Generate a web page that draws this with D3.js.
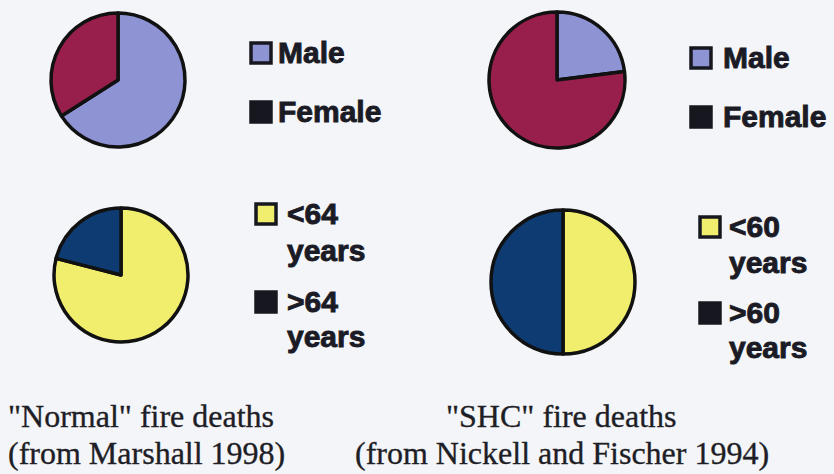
<!DOCTYPE html>
<html>
<head>
  <title>Fire deaths</title>
  <meta charset="utf-8">
  <style type="text/css">
  body { margin: 0; background: #f4f5f8; }
  .legend text { font-family: "Liberation Sans", Arial, sans-serif; font-weight: bold; font-size: 30px; fill: #1b1b26; stroke: #1b1b26; stroke-width: 0.9px; }
  .caption { font-family: "Liberation Serif", "Times New Roman", serif; font-size: 32px; fill: #1e1e26; stroke: #1e1e26; stroke-width: 0.35px; }
  </style>
</head>
<body>
<script src="https://d3js.org/d3.v7.min.js"></script>
<div id="chart"></div>
<script>

// data (percent)
var sexLabels = ["Male", "Female"];
var normalSex = [66, 34];
var shcSex = [23, 77];

var normalAgeLabels = [["<64", "years"], [">64", "years"]];
var shcAgeLabels = [["<60", "years"], [">60", "years"]];
var normalAge = [79, 21];
var shcAge = [50, 50];

var captionNormal = ["\"Normal\" fire deaths", "(from Marshall 1998)"];
var captionShc = ["\"SHC\" fire deaths", "(from Nickell and Fischer 1994)"];

var width = 834, height = 474;

var svg = d3.select("#chart")
  .append("svg")
    .attr("width", width)
    .attr("height", height);

svg.append("rect")
  .attr("width", width)
  .attr("height", height)
  .attr("fill", "#f4f5f8");

var sexColor = d3.scaleOrdinal().domain([0, 1]).range(["#8e93d4", "#981f4b"]);
var ageColor = d3.scaleOrdinal().domain([0, 1]).range(["#f1ee6d", "#0e3b72"]);
// legend swatches: second item is drawn plain black
var swatch = ["", "#17171f"];

var pie = d3.pie().sort(null).value(function(d) { return d; });

function drawPie(values, color, cx, cy, r) {
  var arc = d3.arc().innerRadius(0).outerRadius(r);
  var g = svg.append("g").attr("transform", "translate(" + cx + "," + cy + ")");
  g.selectAll("path")
    .data(pie(values))
    .enter()
    .append("path")
      .attr("d", arc)
      .attr("fill", function(d, i) { return color(i); })
      .attr("stroke", "#111")
      .attr("stroke-width", 3.5)
      .attr("stroke-linejoin", "round");
}

// legend: lines = array of arrays of text lines
function drawLegend(lines, color, x, textX, items) {
  var g = svg.append("g").attr("class", "legend");
  lines.forEach(function(txt, i) {
    var it = items[i];
    g.append("rect")
      .attr("x", x)
      .attr("y", it.y - 20)
      .attr("width", 20)
      .attr("height", 20)
      .attr("fill", i == 0 ? color(0) : swatch[1])
      .attr("stroke", "#17171f")
      .attr("stroke-width", 3.5);
    txt.forEach(function(t, j) {
      g.append("text")
        .attr("x", textX)
        .attr("y", it.y + j * it.lh)
        .text(t);
    });
  });
}

drawPie(normalSex, sexColor, 118, 80, 67);
drawPie(shcSex, sexColor, 557, 80, 68);
drawPie(normalAge, ageColor, 121, 275, 67);
drawPie(shcAge, ageColor, 563, 282, 72);

drawLegend(sexLabels.map(function(d) { return [d]; }), sexColor, 251, 278,
  [{y: 63, lh: 0}, {y: 122, lh: 0}]);
drawLegend(sexLabels.map(function(d) { return [d]; }), sexColor, 691, 723,
  [{y: 68, lh: 0}, {y: 127, lh: 0}]);
drawLegend(normalAgeLabels, ageColor, 256, 287,
  [{y: 224, lh: 37}, {y: 312, lh: 35}]);
drawLegend(shcAgeLabels, ageColor, 700, 729,
  [{y: 237, lh: 36}, {y: 323, lh: 35}]);

// captions
svg.append("text").attr("class", "caption").attr("x", 8).attr("y", 427).text(captionNormal[0]);
svg.append("text").attr("class", "caption").attr("x", 8).attr("y", 464).text(captionNormal[1]);
svg.append("text").attr("class", "caption").attr("x", 446).attr("y", 427).text(captionShc[0]);
svg.append("text").attr("class", "caption").attr("x", 355).attr("y", 464).text(captionShc[1]);

</script>
</body>
</html>
